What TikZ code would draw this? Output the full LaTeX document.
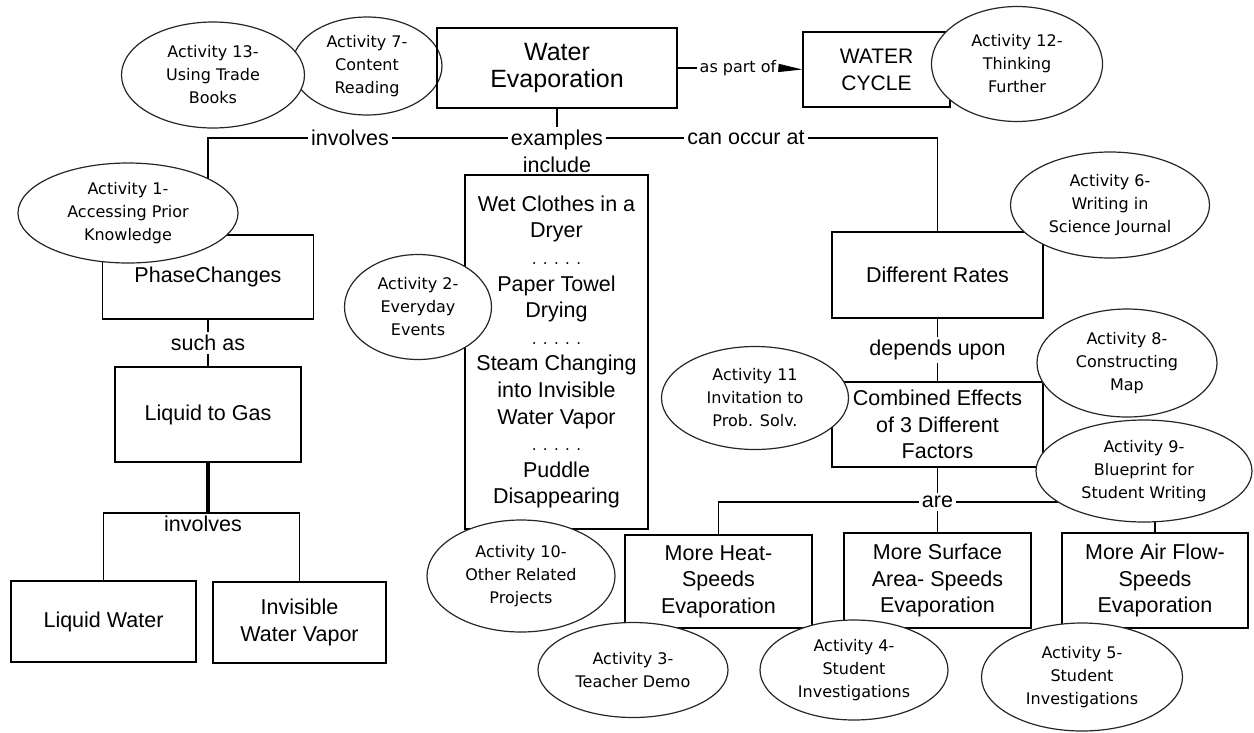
\documentclass[tikz,border=0pt]{standalone}
\usepackage{fontspec}
\setmainfont{Liberation Sans}
\newfontfamily\actfont{DejaVu Sans}
\usetikzlibrary{shapes.geometric,arrows.meta}

\newcommand{\dotrow}{{\actfont\fontsize{15}{26.6}\selectfont . . . . .}}

\tikzset{
  concept/.style={draw, line width=1.3pt, align=center, inner sep=2pt,
    font=\fontsize{21.5}{26.6}\selectfont},
  activity/.style={ellipse, draw=black!85, line width=1.2pt, fill=white,
    align=center, inner sep=0pt, font=\actfont\fontsize{16}{23}\selectfont},
  linkword/.style={align=center, inner sep=3pt,
    font=\fontsize{21.5}{26.6}\selectfont},
  link/.style={draw, line width=1.3pt},
}

\begin{document}
\begin{tikzpicture}[x=1pt,y=-1pt]
            \useasboundingbox (0,0) rectangle (1254,732);

            \node[activity, minimum width=150pt, minimum height=98pt] (act7) at (367,66) {Activity 7-\\Content\\Reading};
            \node[activity, minimum width=183pt, minimum height=106pt] (act13) at (213,75) {Activity 13-\\Using Trade\\Books};

            % concepts
            \node[concept, minimum width=240pt, minimum height=80pt, font=\fontsize{25}{27}\selectfont] (evap) at (557,68) {Water\\Evaporation};
            \node[concept, minimum width=147pt, minimum height=75pt, font=\fontsize{21}{27}\selectfont] (cycle) at (876.5,69.5) {WATER\\CYCLE};
            \node[concept, minimum width=211pt, minimum height=84pt] (phase) at (208,277) {PhaseChanges};
            \node[concept, minimum width=186pt, minimum height=95pt] (liquid) at (208,414.5) {Liquid to Gas};
            \node[concept, minimum width=185pt, minimum height=81pt] (lw) at (103.5,621.5) {Liquid Water};
            \node[concept, minimum width=173pt, minimum height=81pt] (wv) at (299.5,622.5) {Invisible\\Water Vapor};
            \node[concept, minimum width=183pt, minimum height=354pt] (examples) at (556.5,352) {Wet Clothes in a\\Dryer\\\dotrow\\Paper Towel\\Drying\\\dotrow\\Steam Changing\\into Invisible\\Water Vapor\\\dotrow\\Puddle\\Disappearing};
            \node[concept, minimum width=211pt, minimum height=86pt] (rates) at (937.5,275) {Different Rates};
            \node[concept, minimum width=211pt, minimum height=85pt] (combined) at (937.5,424.5) {Combined Effects\\of 3 Different\\Factors};
            \node[concept, minimum width=187pt, minimum height=93pt] (heat) at (718.5,581.5) {More Heat-\\Speeds\\Evaporation};
            \node[concept, minimum width=187pt, minimum height=95pt] (surface) at (937.5,580.5) {More Surface\\Area- Speeds\\Evaporation};
            \node[concept, minimum width=186pt, minimum height=95pt] (air) at (1155,580.5) {More Air Flow-\\Speeds\\Evaporation};

            % linking words
            \node[linkword] (lInvolves) at (350,138) {involves};
            \node[linkword] (lExamples) at (557,151.5) {examples\\include};
            \node[linkword] (lCanOccur) at (746,138) {can occur at};
            \node[linkword, font=\actfont\fontsize{16}{18}\selectfont] (lPart) at (738,68) {as part of};
            \node[linkword] (lSuch) at (208,343) {such as};
            \node[linkword, anchor=north] (lInv2) at (203,513) {involves};
            \node[linkword] (lDepends) at (937.5,350) {depends upon};
            \node[linkword] (lAre) at (937.5,502) {are};

            \draw[link] (evap.south) -- (lExamples.north);
            \draw[link] (lExamples.south) -- (examples.north);
            \draw[link] (lInvolves.east) -- (lInvolves.east -| lExamples.west);
            \draw[link] (lInvolves.west) -| (phase.north);
            \draw[link] (lCanOccur.west) -- (lCanOccur.west -| lExamples.east);
            \draw[link] (lCanOccur.east) -| (rates.north);
            \draw[link] (evap.east) -- (lPart.west);
            \draw[link, -{Triangle[length=24pt,width=8pt]}] (lPart.east) -- (cycle.west);

            \draw[link] (phase.south) -- (lSuch.north);
            \draw[link] (lSuch.south) -- (liquid.north);
            \draw[link, line width=3.5pt] (liquid.south) -- (liquid.south |- lInv2.north);
            \draw[link] (lw.north) |- (lInv2.north) -| (wv.north);

            \draw[link] (rates.south) -- (lDepends.north);
            \draw[link] (lDepends.south) -- (combined.north);
            \draw[link] (combined.south) -- (lAre.north);
            \draw[link] (lAre.south) -- (surface.north);
            \draw[link] (lAre.west) -| (heat.north);
            \draw[link] (lAre.east) -| (air.north);

            % activities
            \node[activity, minimum width=171pt, minimum height=115pt] (act12) at (1017,64) {Activity 12-\\Thinking\\Further};
            \node[activity, minimum width=220pt, minimum height=100pt] (act1) at (128,213) {Activity 1-\\Accessing Prior\\Knowledge};
            \node[activity, minimum width=147pt, minimum height=105pt] (act2) at (418,307) {Activity 2-\\Everyday\\Events};
            \node[activity, minimum width=188pt, minimum height=112pt] (act10) at (521,576) {Activity 10-\\Other Related\\Projects};
            \node[activity, minimum width=199pt, minimum height=106pt] (act6) at (1110,205) {Activity 6-\\Writing in\\Science Journal};
            \node[activity, minimum width=180pt, minimum height=108pt] (act8) at (1127,363) {Activity 8-\\Constructing\\Map};
            \node[activity, minimum width=187pt, minimum height=103pt] (act11) at (755,398) {Activity 11\\Invitation to\\Prob. Solv.};
            \node[activity, minimum width=216pt, minimum height=102pt] (act9) at (1144,471) {Activity 9-\\Blueprint for\\Student Writing};
            \node[activity, minimum width=190pt, minimum height=95pt] (act3) at (633,670) {Activity 3-\\Teacher Demo};
            \node[activity, minimum width=188pt, minimum height=100pt] (act4) at (854,670) {Activity 4-\\Student\\Investigations};
            \node[activity, minimum width=201pt, minimum height=108pt] (act5) at (1082,677) {Activity 5-\\Student\\Investigations};
\end{tikzpicture}
\end{document}
